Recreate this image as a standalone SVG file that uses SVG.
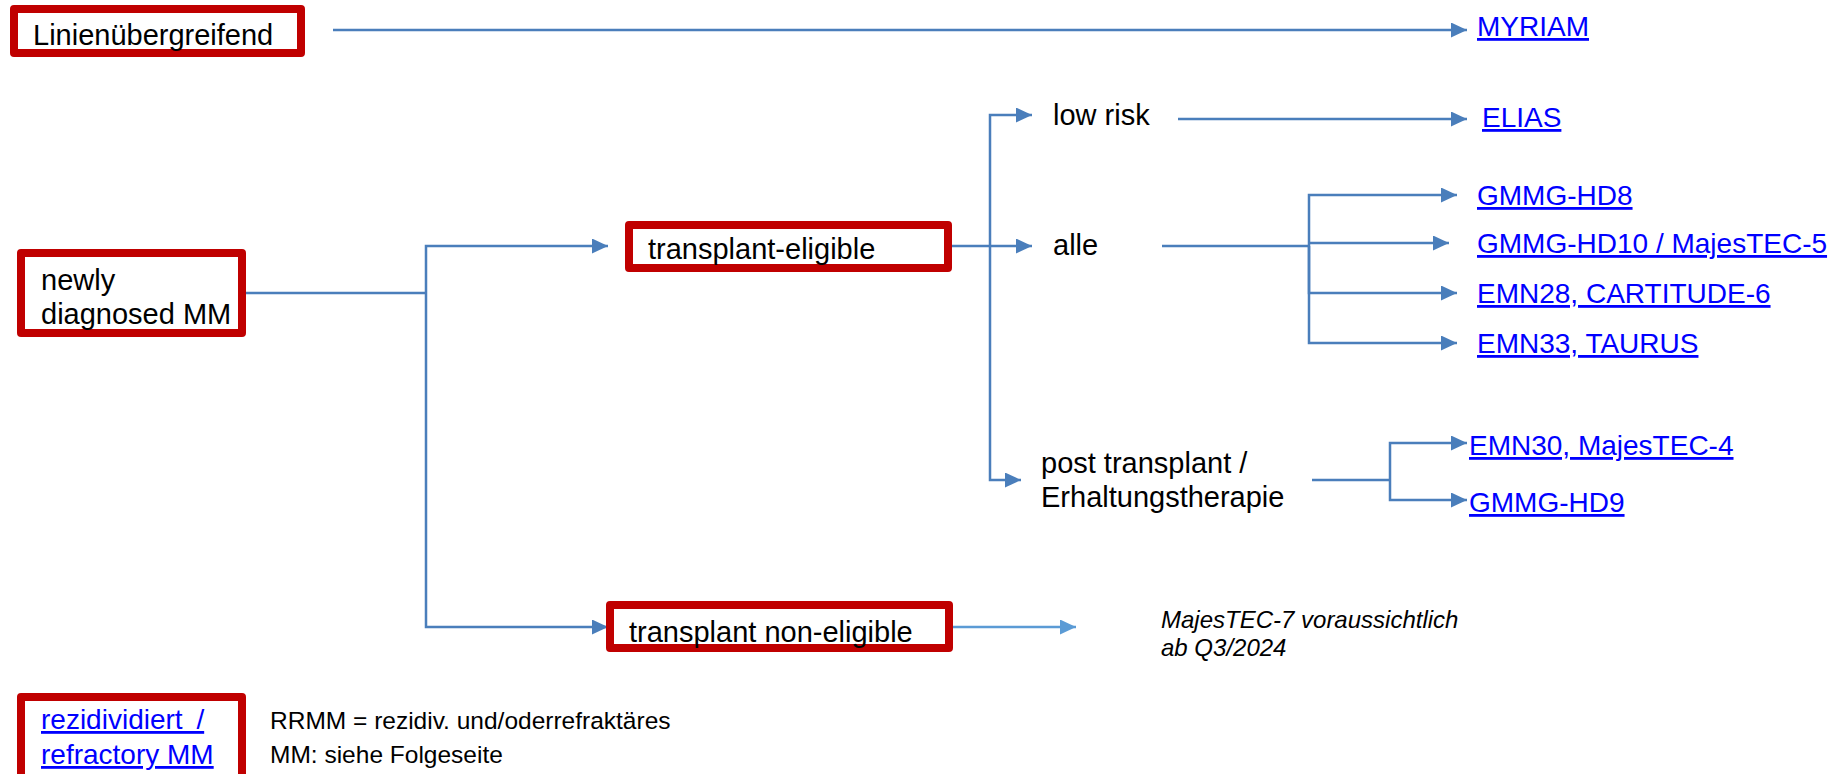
<svg xmlns="http://www.w3.org/2000/svg" width="1845" height="774" viewBox="0 0 1845 774">
<style>
.box{fill:#fff;stroke:#c00000;stroke-width:8;stroke-linejoin:round}
.t{font-family:"Liberation Sans",Arial,sans-serif;font-size:29px;fill:#000}
.lk{font-family:"Liberation Sans",Arial,sans-serif;font-size:28px;fill:#0000ff;text-decoration:underline}
.c{fill:none;stroke:#4a7ebb;stroke-width:2.5}
.it{font-family:"Liberation Sans",Arial,sans-serif;font-size:24px;font-style:italic;fill:#000}
.note{font-family:"Liberation Sans",Arial,sans-serif;font-size:24.5px;fill:#000}
</style>
<defs>
<marker id="ah" markerUnits="userSpaceOnUse" markerWidth="16" markerHeight="15" refX="16" refY="7.5" orient="auto"><path d="M0,0 L16,7.5 L0,15 Z" fill="#4a7ebb"/></marker>
<marker id="ah2" markerUnits="userSpaceOnUse" markerWidth="16" markerHeight="15" refX="16" refY="7.5" orient="auto"><path d="M0,0 L16,7.5 L0,15 Z" fill="#5b9bd5"/></marker>
</defs>
<g id="connectors">
<path class="c" d="M333,30 H1467" marker-end="url(#ah)"/>
<path class="c" d="M246,293 H426"/>
<path class="c" d="M426,293 V246 H608" marker-end="url(#ah)"/>
<path class="c" d="M426,293 V627 H608" marker-end="url(#ah)"/>
<path class="c" d="M952,246 H1032" marker-end="url(#ah)"/>
<path class="c" d="M990,246 V115 H1032" marker-end="url(#ah)"/>
<path class="c" d="M990,246 V480 H1021" marker-end="url(#ah)"/>
<path class="c" d="M1178,119 H1467" marker-end="url(#ah)"/>
<path class="c" d="M1162,246 H1309"/>
<path class="c" d="M1309,246 V195 H1457" marker-end="url(#ah)"/>
<path class="c" d="M1309,243 H1449" marker-end="url(#ah)"/>
<path class="c" d="M1309,246 V293 H1457" marker-end="url(#ah)"/>
<path class="c" d="M1309,246 V343 H1457" marker-end="url(#ah)"/>
<path class="c" d="M1312,480 H1390"/>
<path class="c" d="M1390,480 V443 H1467" marker-end="url(#ah)"/>
<path class="c" d="M1390,480 V500 H1467" marker-end="url(#ah)"/>
<path class="c" d="M953,627 H1076" style="stroke:#5b9bd5" marker-end="url(#ah2)"/>
</g>
<g id="linien"><rect class="box" x="14" y="9" width="287" height="44"/><text class="t" x="33" y="45">Linienübergreifend</text></g>
<g id="myriam"><text class="lk" x="1477" y="36">MYRIAM</text></g>
<g id="newly"><rect class="box" x="21" y="253" width="221" height="80"/><text class="t" x="41" y="290">newly</text><text class="t" x="41" y="324">diagnosed MM</text></g>
<g id="te"><rect class="box" x="629" y="225" width="319" height="43"/><text class="t" x="648" y="259">transplant-eligible</text></g>
<g id="tne"><rect class="box" x="610" y="605" width="339" height="43"/><text class="t" x="629" y="642">transplant non-eligible</text></g>
<g id="lowrisk"><text class="t" x="1053" y="125">low risk</text></g>
<g id="elias"><text class="lk" x="1482" y="127">ELIAS</text></g>
<g id="alle"><text class="t" x="1053" y="255">alle</text></g>
<g id="hd8"><text class="lk" x="1477" y="205">GMMG-HD8</text></g>
<g id="hd10"><text class="lk" x="1477" y="253">GMMG-HD10 / MajesTEC-5</text></g>
<g id="emn28"><text class="lk" x="1477" y="303">EMN28, CARTITUDE-6</text></g>
<g id="emn33"><text class="lk" x="1477" y="353">EMN33, TAURUS</text></g>
<g id="post"><text class="t" x="1041" y="473">post transplant /</text><text class="t" x="1041" y="507">Erhaltungstherapie</text></g>
<g id="emn30"><text class="lk" x="1469" y="455">EMN30, MajesTEC-4</text></g>
<g id="hd9"><text class="lk" x="1469" y="512">GMMG-HD9</text></g>
<g id="majestec7"><text class="it" x="1161" y="628">MajesTEC-7 voraussichtlich</text><text class="it" x="1161" y="656">ab Q3/2024</text></g>
<g id="rrmm"><rect class="box" x="21" y="697" width="221" height="100"/><text class="lk" x="41" y="729" style="word-spacing:6px">rezidividiert /</text><text class="lk" x="41" y="764">refractory MM</text></g>
<g id="note"><text class="note" x="270" y="729">RRMM = rezidiv. und/oderrefraktäres</text><text class="note" x="270" y="763">MM: siehe Folgeseite</text></g>
</svg>
